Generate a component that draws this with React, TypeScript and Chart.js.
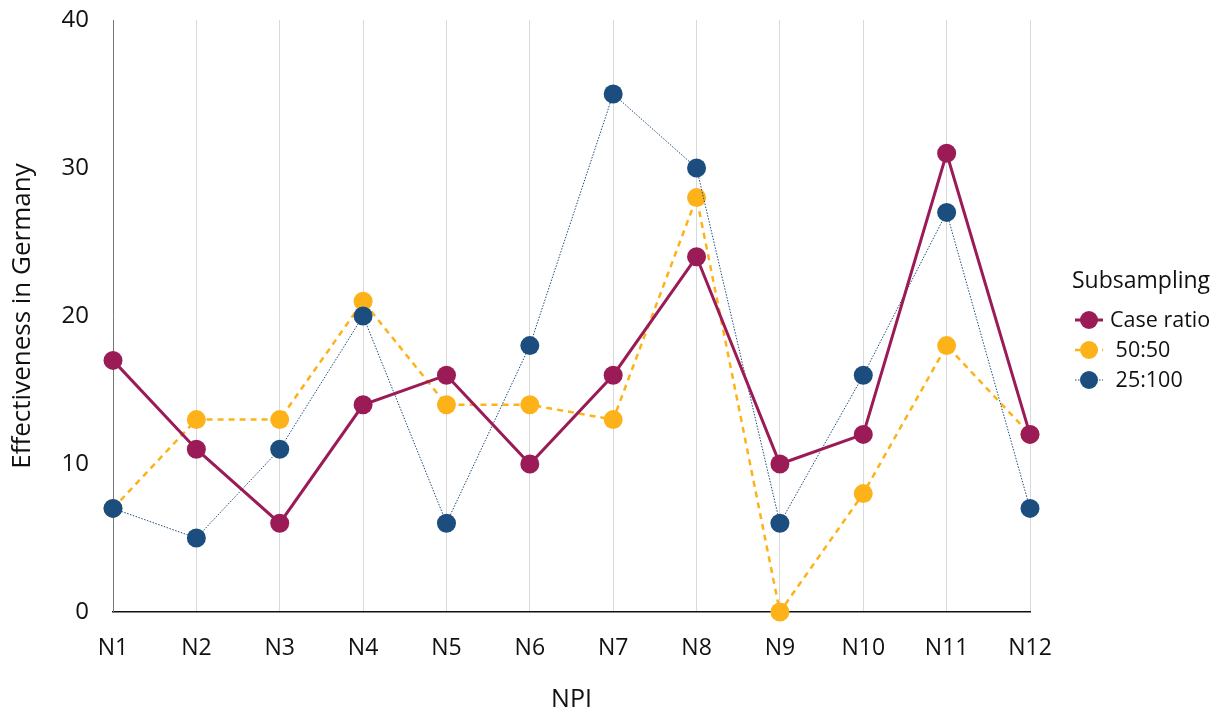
import React, { useEffect, useRef } from "react";
import { Chart, registerables } from "chart.js";

Chart.register(...registerables);

const categories = ["N1", "N2", "N3", "N4", "N5", "N6", "N7", "N8", "N9", "N10", "N11", "N12"];
const caseRatio = [17, 11, 6, 14, 16, 10, 16, 24, 10, 12, 31, 12];
const fiftyFifty = [7, 13, 13, 21, 14, 14, 13, 28, 0, 8, 18, 12];
const twentyFive = [7, 5, 11, 20, 6, 18, 35, 30, 6, 16, 27, 7];
const seriesNames = ["Case ratio", " 50:50", " 25:100"];
const legendTitle = "Subsampling";
const yTicks = [0, 10, 20, 30, 40];

const MAROON = "#9B1B56";
const ORANGE = "#FDB21A";
const BLUE = "#1B4D7E";
const FONT = "'Open Sans', 'DejaVu Sans', sans-serif";

const legendPlugin = {
  id: "customLegend",
  afterDraw(chart: any) {
    const ctx = chart.ctx;
    ctx.save();
    ctx.fillStyle = "#111";
    ctx.textBaseline = "middle";
    ctx.textAlign = "left";
    ctx.font = `23px ${FONT}`;
    ctx.fillText(legendTitle, 1072, 281);
    ctx.font = `21.5px ${FONT}`;
    const items = [
      { color: MAROON, dash: [] as number[], width: 3, y: 320 },
      { color: ORANGE, dash: [5, 4], width: 2.5, y: 350 },
      { color: BLUE, dash: [1.5, 1.5], width: 1, y: 380 },
    ];
    items.forEach((it, i) => {
      ctx.beginPath();
      ctx.setLineDash(it.dash);
      ctx.strokeStyle = it.color;
      ctx.lineWidth = it.width;
      ctx.moveTo(1075, it.y);
      ctx.lineTo(1103, it.y);
      ctx.stroke();
      ctx.setLineDash([]);
      ctx.beginPath();
      ctx.fillStyle = it.color;
      ctx.arc(1089, it.y, 9, 0, Math.PI * 2);
      ctx.fill();
      ctx.fillStyle = "#111";
      ctx.fillText(seriesNames[i], 1110, it.y + 1);
    });
    ctx.restore();
  },
};

export default function App() {
  const ref = useRef<HTMLCanvasElement | null>(null);
  useEffect(() => {
    if (!ref.current) return;
    const chart = new Chart(ref.current, {
      type: "line",
      data: {
        labels: categories,
        datasets: [
          {
            label: seriesNames[0],
            data: caseRatio,
            borderColor: MAROON,
            backgroundColor: MAROON,
            borderWidth: 3,
            pointRadius: 9.5,
            pointBorderWidth: 0,
            pointBackgroundColor: MAROON,
            order: 0,
            clip: false,
          },
          {
            label: seriesNames[1],
            data: fiftyFifty,
            borderColor: ORANGE,
            backgroundColor: ORANGE,
            borderWidth: 2.5,
            borderDash: [6, 5],
            pointRadius: 9.5,
            pointBorderWidth: 0,
            pointBackgroundColor: ORANGE,
            order: 2,
            clip: false,
          },
          {
            label: seriesNames[2],
            data: twentyFive,
            borderColor: BLUE,
            backgroundColor: BLUE,
            borderWidth: 1,
            borderDash: [1.5, 1.5],
            pointRadius: 9.5,
            pointBorderWidth: 0,
            pointBackgroundColor: BLUE,
            order: 1,
            clip: false,
          },
        ] as any,
      },
      options: {
        animation: false,
        responsive: false,
        maintainAspectRatio: false,
        layout: { padding: { top: 20, right: 194, left: 0, bottom: 0 } },
        plugins: {
          legend: { display: false },
          tooltip: { enabled: false },
        },
        scales: {
          x: {
            type: "category",
            offset: false,
            grid: { display: true, color: "#D9D9D9", lineWidth: 1, drawTicks: false },
            border: { display: true, color: "#111", width: 1.5 },
            ticks: { color: "#111", font: { family: FONT, size: 23 }, padding: 23, maxRotation: 0, autoSkip: false },
            title: { display: true, text: "NPI", color: "#111", font: { family: FONT, size: 25 }, padding: { top: 20, bottom: 0 } },
            afterFit: (s: any) => { s.height = 103; s.paddingLeft = 0; s.paddingRight = 0; },
          },
          y: {
            min: 0,
            max: 40,
            afterBuildTicks: (s: any) => { s.ticks = yTicks.map((v) => ({ value: v })); },
            grid: { display: false, drawTicks: false },
            border: { display: true, color: "#777", width: 1 },
            ticks: { color: "#111", font: { family: FONT, size: 24 }, padding: 24 },
            title: { display: true, text: "Effectiveness in Germany", color: "#111", font: { family: FONT, size: 26 }, padding: { top: 7, bottom: 7 } },
            afterFit: (s: any) => { s.width = 113; s.paddingTop = 0; s.paddingBottom = 0; },
          },
        },
      } as any,
      plugins: [legendPlugin],
    });
    return () => chart.destroy();
  }, []);
  return (
    <div style={{ position: "fixed", left: 0, top: 0, width: 1224, height: 715, background: "#fff" }}>
      <canvas ref={ref} width={1224} height={715} style={{ width: 1224, height: 715 }} />
    </div>
  );
}
